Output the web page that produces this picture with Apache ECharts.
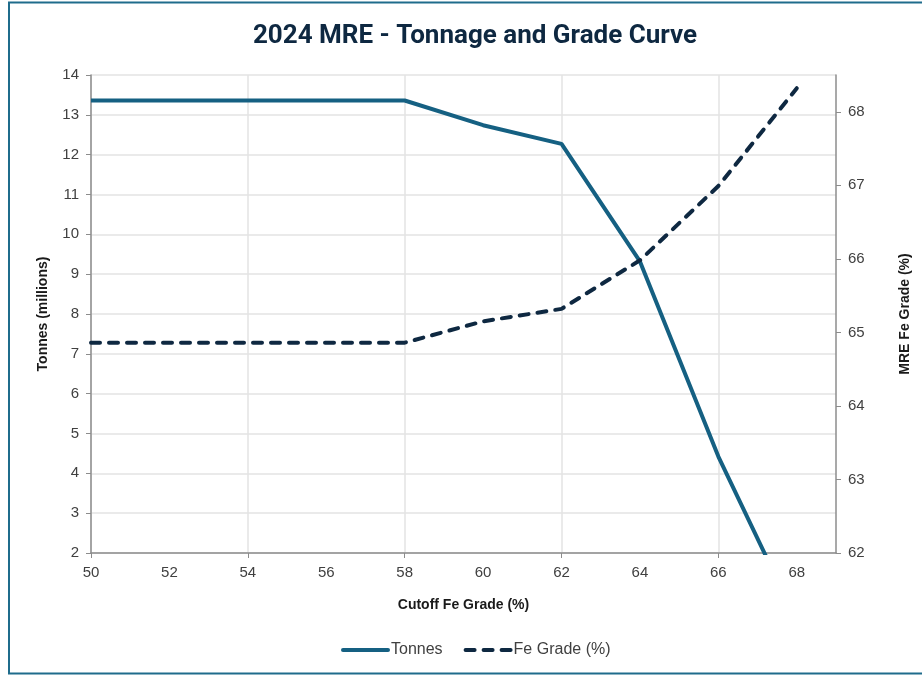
<!DOCTYPE html>
<html>
<head>
<meta charset="utf-8">
<script src="https://cdn.jsdelivr.net/npm/echarts@6/dist/echarts.min.js"></script>
<style>
html,body{margin:0;padding:0;background:#fff;}
#chart{width:922px;height:675px;}
</style>
</head>
<body>
<div id="chart"></div>
<script>
const cutoff = [50, 52, 54, 56, 58, 60, 62, 64, 66, 68];
const tonnes = [13.36, 13.36, 13.36, 13.36, 13.36, 12.74, 12.27, 9.32, 4.42, 0.3];
const feGrade = [64.86, 64.86, 64.86, 64.86, 64.86, 65.15, 65.32, 65.98, 66.99, 68.32];
const xLabels = [50, 52, 54, 56, 58, 60, 62, 64, 66, 68];
const xTicks = [50, 54, 58, 62, 66];
const rightLabels = [62, 63, 64, 65, 66, 67, 68];

const chart = echarts.init(document.getElementById('chart'));
const FONT = "'Liberation Sans', Arial, sans-serif";
const labelStyle = { color: '#404040', fontSize: 15, fontFamily: FONT };
const nameStyle = { color: '#1a1a1a', fontSize: 14, fontWeight: 'bold', fontFamily: FONT };
chart.setOption({
  animation: false,
  backgroundColor: '#fff',
  graphic: [{
    type: 'rect', shape: { x: 9, y: 2.5, width: 940, height: 671 },
    style: { fill: 'none', stroke: '#1f6c8c', lineWidth: 2 }, silent: true, z: 100
  }],
  title: {
    text: '2024 MRE - Tonnage and Grade Curve',
    left: 470, top: 18, textAlign: 'center',
    textStyle: { color: '#0E2841', fontSize: 26, fontWeight: 'bold', fontFamily: 'Roboto, sans-serif' }
  },
  grid: { left: 91, right: 86, top: 75, bottom: 122, containLabel: false },
  legend: {
    bottom: 12, left: 336, itemWidth: 45, itemHeight: 14, itemGap: 21,
    itemStyle: { opacity: 0 },
    lineStyle: { width: 4, cap: 'round' },
    textStyle: { color: '#404040', fontSize: 16, fontFamily: FONT, padding: [0, 0, 0, -2] },
    data: ['Tonnes', 'Fe Grade (%)']
  },
  xAxis: {
    type: 'value', min: 50, max: 69, interval: 4,
    name: 'Cutoff Fe Grade (%)', nameLocation: 'middle', nameGap: 45, nameTextStyle: nameStyle,
    axisLine: { show: true, lineStyle: { color: '#8c8c8c', width: 1.5 } },
    axisTick: { show: true, length: 5, customValues: xTicks, lineStyle: { color: '#8c8c8c' } },
    axisLabel: { customValues: xLabels, margin: 12, ...labelStyle },
    splitLine: { show: true, lineStyle: { color: '#e3e3e3', width: 1.5 } }
  },
  yAxis: [{
    type: 'value', min: 2, max: 14, interval: 1, position: 'left',
    name: 'Tonnes (millions)', nameLocation: 'middle', nameGap: 41, nameTextStyle: nameStyle,
    axisLine: { show: true, lineStyle: { color: '#8c8c8c', width: 1.5 } },
    axisTick: { show: true, length: 5, lineStyle: { color: '#8c8c8c' } },
    axisLabel: { margin: 12, ...labelStyle },
    splitLine: { show: true, lineStyle: { color: '#e3e3e3', width: 1.5 } }
  }, {
    type: 'value', min: 62, max: 68.5, interval: 1, position: 'right',
    name: 'MRE Fe Grade (%)', nameLocation: 'middle', nameGap: 62, nameRotate: 90, nameTextStyle: nameStyle,
    axisLine: { show: true, lineStyle: { color: '#8c8c8c', width: 1.5 } },
    axisTick: { show: true, length: 5, customValues: rightLabels, lineStyle: { color: '#8c8c8c' } },
    axisLabel: { customValues: rightLabels, margin: 12, ...labelStyle },
    splitLine: { show: false }
  }],
  series: [{
    name: 'Tonnes', type: 'line', yAxisIndex: 0, symbol: 'none', clip: true,
    data: cutoff.map((x, i) => [x, tonnes[i]]),
    lineStyle: { color: '#156082', width: 4 }, itemStyle: { color: '#156082' }
  }, {
    name: 'Fe Grade (%)', type: 'line', yAxisIndex: 1, symbol: 'none', clip: true,
    data: cutoff.map((x, i) => [x, feGrade[i]]),
    lineStyle: { color: '#0E2841', width: 4, type: [9, 9], cap: 'round' }, itemStyle: { color: '#0E2841' }
  }]
});
</script>
</body>
</html>
